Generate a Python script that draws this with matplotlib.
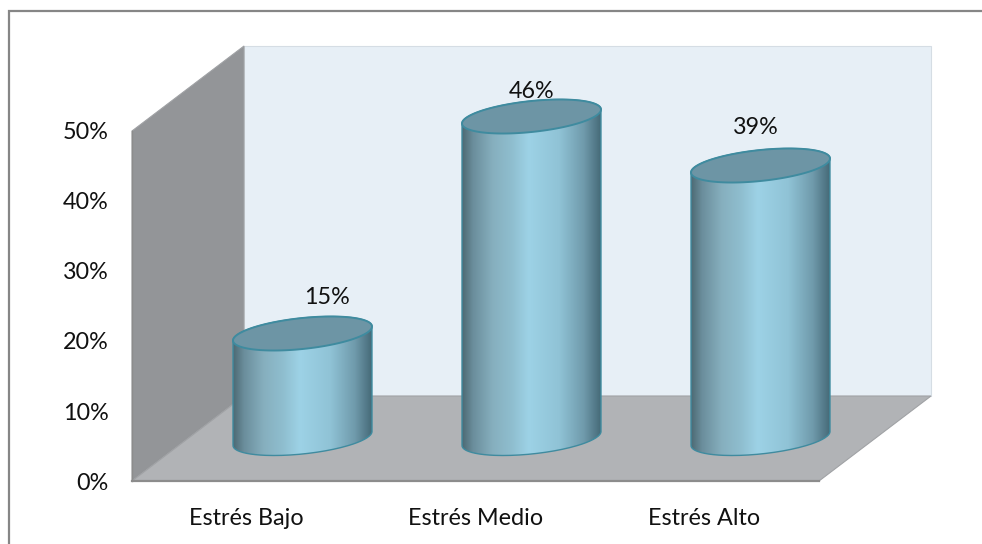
import matplotlib
matplotlib.use('Agg')
import matplotlib.pyplot as plt
from matplotlib.colors import LinearSegmentedColormap
from matplotlib.lines import Line2D
from matplotlib.patches import Polygon, PathPatch
from matplotlib.path import Path
from matplotlib.ticker import FuncFormatter
import numpy as np

# Niveles de estrés
categorias = ['Estrés Bajo', 'Estrés Medio', 'Estrés Alto']
porcentajes = [15, 46, 39]
ticks_y = [0, 10, 20, 30, 40, 50]

# Desplazamiento de cada etiqueta respecto a la tapa del cilindro (px)
etiqueta_dx = [24, 0, -5]
etiqueta_dy = [36, 25, 38]

W, H = 982, 544
plt.rcParams['font.family'] = ['Lato', 'DejaVu Sans']

fig = plt.figure(figsize=(W / 100, H / 100), dpi=100)
# Plano frontal del eje: x 132-819 px, y 131-481 px
ax = fig.add_axes([132 / W, 1 - 481 / H, 687 / W, 350 / H])
x0, x1 = -0.5, 2.5
y0, y1 = 0, 50
px_x = 229.0         # px por categoría
px_y = 7.0           # px por punto porcentual

# Profundidad de la caja 3D
prof_x = 112 / px_x
prof_y = 85 / px_y

# Marco exterior: solo arriba y a la izquierda
fig.add_artist(Line2D([9 / W, 9 / W, 1], [0, 1 - 11 / H, 1 - 11 / H], transform=fig.transFigure,
                      color='#868686', linewidth=1.6, solid_joinstyle='miter'))

# Paredes y suelo
pared_fondo = [(x0 + prof_x, y0 + prof_y), (x1 + prof_x, y0 + prof_y),
               (x1 + prof_x, y1 + prof_y), (x0 + prof_x, y1 + prof_y)]
pared_lateral = [(x0, y0), (x0 + prof_x, y0 + prof_y), (x0 + prof_x, y1 + prof_y), (x0, y1)]
suelo = [(x0, y0), (x1, y0), (x1 + prof_x, y0 + prof_y), (x0 + prof_x, y0 + prof_y)]
ax.add_patch(Polygon(pared_fondo, closed=True, facecolor='#e7eff6', edgecolor='#d5dde4',
                     linewidth=0.8, clip_on=False, zorder=1))
ax.add_patch(Polygon(pared_lateral, closed=True, facecolor='#939598', edgecolor='#a0a2a5',
                     linewidth=0.8, clip_on=False, zorder=1.1))
ax.add_patch(Polygon(suelo, closed=True, facecolor='#b1b3b6', edgecolor='#a0a2a5',
                     linewidth=0.8, clip_on=False, zorder=1.2))
ax.plot([x0, x1], [y0, y0], color='#8c8c8c', linewidth=1.6, clip_on=False, zorder=1.3)
ax.plot([x0, x0], [y0, y1], color='#8c8c8c', linewidth=1.0, clip_on=False, zorder=1.3)

# Degradado horizontal de los cilindros
degradado = LinearSegmentedColormap.from_list('cilindro', [
    (0.0, '#4d6a74'), (0.08, '#6b8e9c'), (0.22, '#86afbe'), (0.36, '#8fbecf'), (0.48, '#9dd2e6'),
    (0.70, '#90c3d6'), (0.88, '#6f9aab'), (1.0, '#466a78')])
franja = np.linspace(0, 1, 256).reshape(1, -1)

medio_ancho = 69.5 / px_x
semi_b = 15.5 / px_y
inclinacion = 7 / px_y
t = np.linspace(0, 2 * np.pi, 200)

for i, valor in enumerate(porcentajes):
    cx = i + prof_x / 2
    base = y0 + prof_y / 2
    tapa = base + valor

    # Cuerpo: lado frontal de la base y de la tapa
    tf = np.linspace(np.pi, 2 * np.pi, 100)
    xb = cx + medio_ancho * np.cos(tf)
    yb = base + inclinacion * np.cos(tf) + semi_b * np.sin(tf)
    xt = cx - medio_ancho * np.cos(tf)
    yt = tapa - inclinacion * np.cos(tf) - semi_b * np.sin(tf)
    contorno = np.column_stack([np.r_[xb, xt], np.r_[yb, yt]])
    cuerpo = PathPatch(Path(np.vstack([contorno, contorno[:1]])), facecolor='none',
                       edgecolor='#3f8b9f', linewidth=1.0, clip_on=False, zorder=3.1)
    ax.add_patch(cuerpo)
    img = ax.imshow(franja, cmap=degradado, aspect='auto', zorder=3, interpolation='bilinear',
                    extent=[cx - medio_ancho, cx + medio_ancho, base - 5, tapa + 5])
    img.set_clip_box(fig.bbox)
    img.set_clip_path(cuerpo)

    # Tapa
    ex = cx + medio_ancho * np.cos(t)
    ey = tapa + inclinacion * np.cos(t) + semi_b * np.sin(t)
    ax.add_patch(Polygon(np.column_stack([ex, ey]), closed=True, facecolor='#6d95a5',
                         edgecolor='#3f8b9f', linewidth=1.4, clip_on=False, zorder=3.2))

    ax.annotate(f'{valor}%', xy=(cx, tapa), xytext=(etiqueta_dx[i], etiqueta_dy[i]),
                textcoords='offset pixels', ha='center', va='center', fontsize=16.8,
                color='#111111', zorder=4, annotation_clip=False)

ax.set_xlim(x0, x1)
ax.set_ylim(y0, y1)
ax.set_xticks(range(len(categorias)))
ax.set_xticklabels(categorias)
ax.set_yticks(ticks_y)
ax.yaxis.set_major_formatter(FuncFormatter(lambda v, _: f'{v:.0f}%'))
ax.tick_params(axis='both', length=0, labelsize=16.8, labelcolor='#111111')
ax.tick_params(axis='x', pad=19.5)
ax.tick_params(axis='y', pad=17)
for s in ax.spines.values():
    s.set_visible(False)
ax.patch.set_visible(False)

fig.savefig('out.png', dpi=100)
